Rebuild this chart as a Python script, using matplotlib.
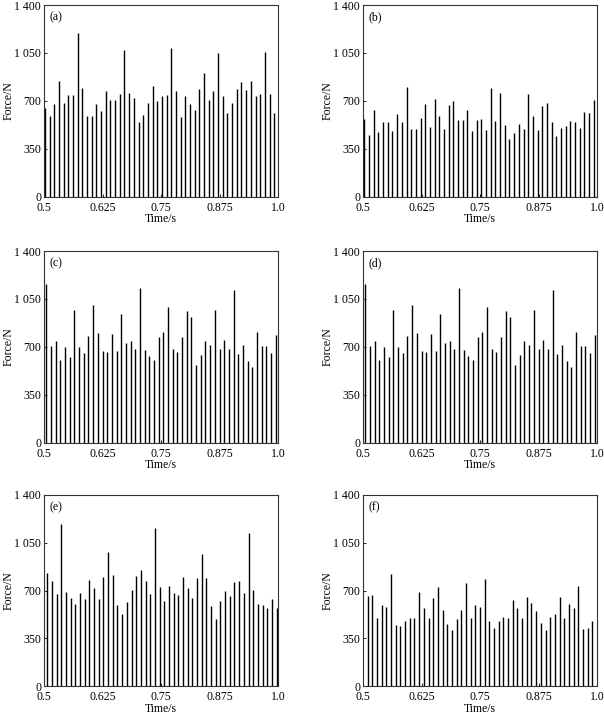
import numpy as np
import matplotlib
matplotlib.use("Agg")
import matplotlib.pyplot as plt
from matplotlib.ticker import FuncFormatter

plt.rcParams['font.family'] = ['Liberation Serif', 'DejaVu Serif']

# spike heights (N), one spike every 0.01 s
force_a = [645, 589, 674, 845, 682, 743, 743, 1193, 791, 592,
           592, 674, 626, 772, 706, 706, 752, 1071, 760, 723,
           543, 597, 682, 811, 699, 733, 740, 1088, 772, 579,
           738, 679, 633, 784, 906, 706, 774, 1047, 735, 609,
           682, 786, 840, 779, 845, 735, 748, 1054, 748, 609]
force_b = [570, 448, 632, 472, 546, 546, 480, 607, 546, 803,
           497, 497, 578, 680, 509, 717, 590, 492, 668, 700,
           563, 558, 636, 480, 563, 570, 490, 796, 553, 754,
           526, 424, 465, 529, 497, 747, 588, 490, 661, 685,
           543, 446, 504, 517, 551, 543, 504, 617, 614, 705]
force_c = [1157, 706, 740, 606, 696, 623, 972, 701, 652, 776,
           1004, 798, 672, 662, 793, 672, 943, 725, 744, 686,
           1132, 677, 635, 604, 769, 810, 992, 684, 664, 774,
           963, 919, 567, 640, 740, 715, 968, 684, 749, 684,
           1113, 647, 715, 599, 550, 810, 708, 703, 655, 786]
force_d = [1157, 706, 740, 606, 696, 623, 972, 701, 652, 776,
           1004, 798, 672, 662, 793, 672, 943, 725, 744, 686,
           1132, 677, 635, 604, 769, 810, 992, 684, 664, 774,
           963, 919, 567, 640, 740, 715, 968, 684, 749, 684,
           1113, 647, 715, 599, 550, 810, 708, 703, 655, 786]
force_e = [826, 770, 673, 1186, 688, 644, 600, 683, 639, 780,
           719, 637, 802, 984, 814, 598, 527, 615, 702, 804,
           848, 768, 676, 1154, 727, 625, 736, 680, 668, 799,
           719, 642, 795, 970, 795, 588, 491, 627, 700, 663,
           761, 770, 680, 1120, 702, 605, 598, 573, 639, 571]
force_f = [661, 671, 498, 598, 578, 819, 447, 440, 476, 501,
           501, 688, 571, 501, 642, 727, 559, 459, 411, 491,
           556, 756, 503, 595, 583, 782, 479, 430, 474, 508,
           498, 632, 571, 501, 656, 612, 552, 464, 413, 508,
           530, 656, 501, 603, 576, 736, 420, 430, 479]

# time of the first spike in each panel (s)
t_first = [0.502, 0.503, 0.505, 0.505, 0.507, 0.510]
dt = 0.01

panel_labels = ['(a)', '(b)', '(c)', '(d)', '(e)', '(f)']
xticks = [0.5, 0.625, 0.75, 0.875, 1.0]
xticklabels = ['0.5', '0.625', '0.75', '0.875', '1.0']
yticks = [0, 350, 700, 1050, 1400]

forces = [force_a, force_b, force_c, force_d, force_e, force_f]

fig = plt.figure(figsize=(6.04, 7.14), dpi=100)

W, H = 604, 714
lefts = [44, 363]
tops = [5, 251, 494.7]
aw, ah = 234, 191.7

fs = 8.5
for i, (f, lab) in enumerate(zip(forces, panel_labels)):
    row, col = divmod(i, 2)
    ax = fig.add_axes([lefts[col] / W, 1 - (tops[row] + ah) / H, aw / W, ah / H])
    t = t_first[i] + dt * np.arange(len(f))
    ax.vlines(t, 0, f, colors='black', linewidth=1.0)
    ax.set_xlim(0.5, 1.0)
    ax.set_ylim(0, 1400)
    ax.set_xticks(xticks)
    ax.set_xticklabels(xticklabels)
    ax.set_yticks(yticks)
    ax.yaxis.set_major_formatter(FuncFormatter(lambda v, p: f"{v:,.0f}".replace(",", " ")))
    ax.tick_params(direction='in', length=2.5, width=0.6, labelsize=fs,
                   top=False, right=False)
    ax.tick_params(axis='x', pad=3.5)
    ax.tick_params(axis='y', pad=2)
    for s in ax.spines.values():
        s.set_linewidth(0.8)
        s.set_color('#333333')
    ax.set_xlabel('Time/s', fontsize=fs, labelpad=-0.5)
    ax.set_ylabel('Force/N', fontsize=fs)
    ax.yaxis.set_label_coords(-0.125, 0.5)
    ax.text(0.022, 0.965, lab, transform=ax.transAxes, fontsize=fs,
            ha='left', va='top')

fig.savefig('out.png', dpi=100)
